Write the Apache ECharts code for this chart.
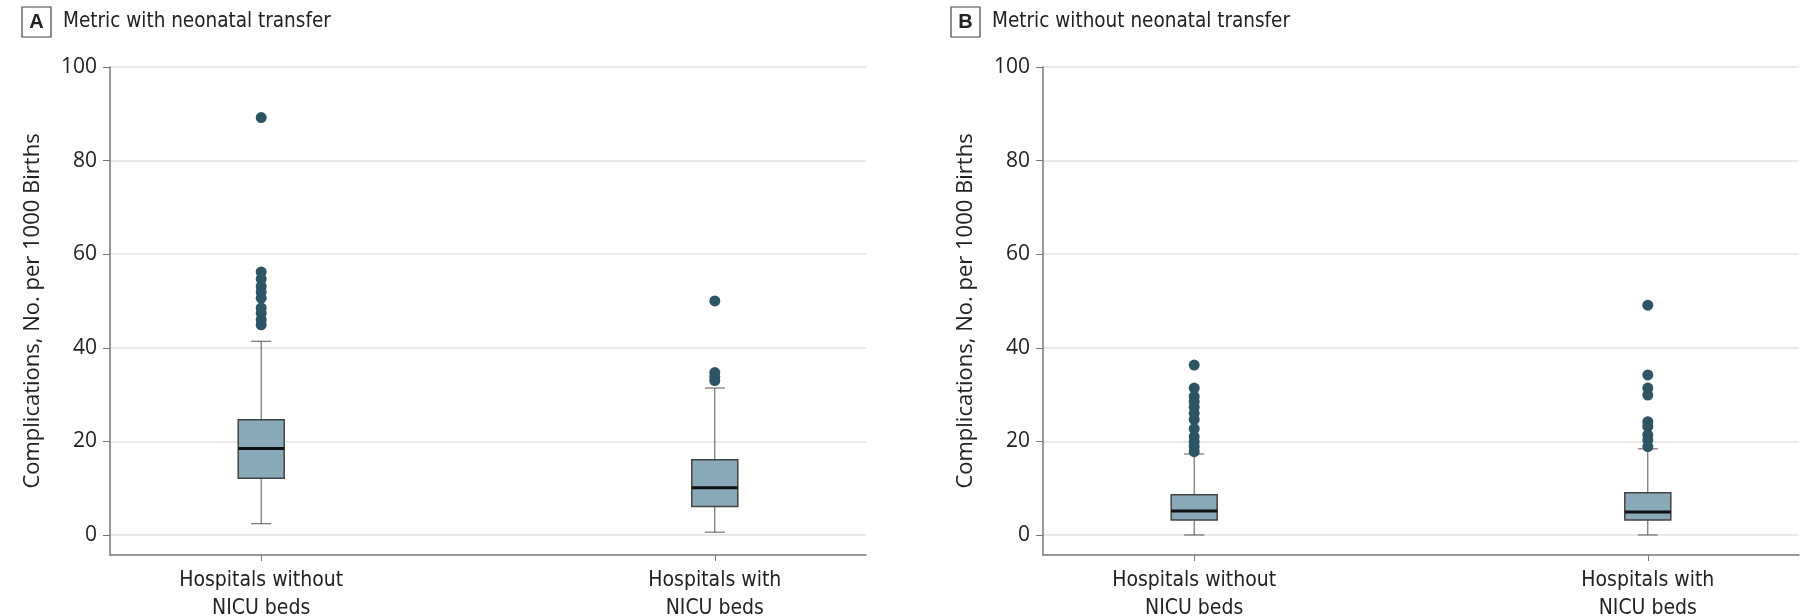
<!DOCTYPE html>
<html>
<head>
<meta charset="utf-8">
<script src="https://cdn.jsdelivr.net/npm/echarts@6/dist/echarts.min.js"></script>
<style>
  html, body { margin: 0; padding: 0; background: #fff; }
  #chart { width: 1800px; height: 616px; }
</style>
</head>
<body>
<div id="chart"></div>
<script>
// ---- Data ----
const categories = ['Hospitals without\nNICU beds', 'Hospitals with\nNICU beds'];
const categoryPositions = [1, 2];
const yTicks = [0, 20, 40, 60, 80, 100];
const panelTitles = ['Metric with neonatal transfer', 'Metric without neonatal transfer'];
const panelLetters = ['A', 'B'];
const yAxisName = 'Complications, No. per 1000 Births';

// Box summaries: [position, lowerWhisker, Q1, median, Q3, upperWhisker]
const boxesA = [
  [1, 2.4, 12.1, 18.5, 24.6, 41.4],
  [2, 0.6, 6.1, 10.1, 16.1, 31.4]
];
const boxesB = [
  [1, 0.0, 3.2, 5.1, 8.6, 17.3],
  [2, 0.0, 3.2, 4.9, 9.0, 18.4]
];

// Outliers
const outliersA1 = [89.2, 56.2, 54.7, 53.1, 51.9, 50.6, 48.5, 47.4, 46.0, 44.9];
const outliersA2 = [50.0, 34.7, 33.8, 33.0];
const outliersB1 = [36.3, 31.4, 29.6, 28.5, 27.3, 26.0, 24.7, 22.7, 21.0, 19.9, 18.9, 17.8];
const outliersB2 = [49.1, 34.2, 31.4, 29.9, 24.2, 23.2, 21.4, 20.3, 18.9];

// ---- Styles ----
const condensed = '"Liberation Sans Narrow", "DejaVu Sans Condensed", "Roboto", sans-serif';
const regular = '"Open Sans", "Noto Sans", sans-serif';
const dotColor = '#2d5565';
const boxFill = '#87a9b8';
const boxBorder = '#444444';
const whiskerColor = '#555555';
const yMin = -4.28;

function toPoints(pos, arr) { return arr.map(v => [pos, v]); }

function renderBox(params, api) {
  const x = api.value(0);
  const lo = api.coord([x, api.value(1)]);
  const q1 = api.coord([x, api.value(2)]);
  const md = api.coord([x, api.value(3)]);
  const q3 = api.coord([x, api.value(4)]);
  const hi = api.coord([x, api.value(5)]);
  const cx = lo[0];
  const bw = 46, cw = 20;
  const lineStyle = { stroke: whiskerColor, lineWidth: 1 };
  return {
    type: 'group',
    children: [
      { type: 'line', shape: { x1: cx, y1: lo[1], x2: cx, y2: q1[1] }, style: lineStyle },
      { type: 'line', shape: { x1: cx, y1: q3[1], x2: cx, y2: hi[1] }, style: lineStyle },
      { type: 'line', shape: { x1: cx - cw / 2, y1: lo[1], x2: cx + cw / 2, y2: lo[1] }, style: lineStyle },
      { type: 'line', shape: { x1: cx - cw / 2, y1: hi[1], x2: cx + cw / 2, y2: hi[1] }, style: lineStyle },
      { type: 'rect', shape: { x: cx - bw / 2, y: q3[1], width: bw, height: q1[1] - q3[1] },
        style: { fill: boxFill, stroke: boxBorder, lineWidth: 1.5 } },
      { type: 'line', shape: { x1: cx - bw / 2, y1: md[1], x2: cx + bw / 2, y2: md[1] },
        style: { stroke: '#111', lineWidth: 3 } }
    ]
  };
}

function makeXAxis(gridIndex) {
  return {
    type: 'value', gridIndex: gridIndex,
    min: 2 / 3, max: 7 / 3,
    axisLine: { show: true, onZero: false, lineStyle: { color: '#777', width: 1.5 } },
    axisTick: { show: true, length: 6, customValues: categoryPositions, lineStyle: { color: '#777' } },
    axisLabel: {
      customValues: categoryPositions,
      formatter: v => categories[Math.round(v) - 1] || '',
      fontFamily: condensed, fontSize: 21, color: '#222', lineHeight: 28, margin: 12
    },
    splitLine: { show: false }
  };
}

function makeYAxis(gridIndex) {
  return {
    type: 'value', gridIndex: gridIndex,
    min: yMin, max: 100,
    name: yAxisName, nameLocation: 'middle', nameGap: 66,
    nameTextStyle: { fontFamily: regular, fontSize: 22, color: '#222' },
    axisLine: { show: true, onZero: false, lineStyle: { color: '#777', width: 1.5 } },
    axisTick: { show: true, length: 7, customValues: yTicks, lineStyle: { color: '#777' } },
    axisLabel: { customValues: yTicks, fontFamily: regular, fontSize: 21, color: '#222', margin: 13 },
    splitLine: { show: true, lineStyle: { color: '#e2e2e2', width: 1.5 } }
  };
}

function makeTitle(i, left) {
  return {
    left: left, top: 2,
    text: '{box|' + panelLetters[i] + '}{t|' + panelTitles[i] + '}',
    textStyle: {
      fontWeight: 'normal',
      rich: {
        box: {
          fontFamily: '"Liberation Sans", sans-serif', fontWeight: 'bold', fontSize: 20, color: '#222',
          borderColor: '#444', borderWidth: 1.2, width: 29, height: 30, lineHeight: 30, align: 'center'
        },
        t: { fontFamily: condensed, fontWeight: 'normal', fontSize: 20.5, color: '#222', padding: [0, 0, 0, 12] }
      }
    }
  };
}

const chart = echarts.init(document.getElementById('chart'));
chart.setOption({
  animation: false,
  backgroundColor: '#fff',
  title: [makeTitle(0, 17), makeTitle(1, 946)],
  grid: [
    { left: 110, right: 934, top: 67, bottom: 61, outerBoundsMode: 'none', containLabel: false },
    { left: 1043, right: 1, top: 67, bottom: 61, outerBoundsMode: 'none', containLabel: false }
  ],
  xAxis: [makeXAxis(0), makeXAxis(1)],
  yAxis: [makeYAxis(0), makeYAxis(1)],
  series: [
    { type: 'custom', xAxisIndex: 0, yAxisIndex: 0, renderItem: renderBox, data: boxesA,
      encode: { x: 0, y: [1, 2, 3, 4, 5] }, z: 2 },
    { type: 'custom', xAxisIndex: 1, yAxisIndex: 1, renderItem: renderBox, data: boxesB,
      encode: { x: 0, y: [1, 2, 3, 4, 5] }, z: 2 },
    { type: 'scatter', xAxisIndex: 0, yAxisIndex: 0, symbolSize: 11, itemStyle: { color: dotColor, opacity: 1 },
      data: toPoints(1, outliersA1).concat(toPoints(2, outliersA2)), z: 3 },
    { type: 'scatter', xAxisIndex: 1, yAxisIndex: 1, symbolSize: 11, itemStyle: { color: dotColor, opacity: 1 },
      data: toPoints(1, outliersB1).concat(toPoints(2, outliersB2)), z: 3 }
  ]
});
</script>
</body>
</html>
